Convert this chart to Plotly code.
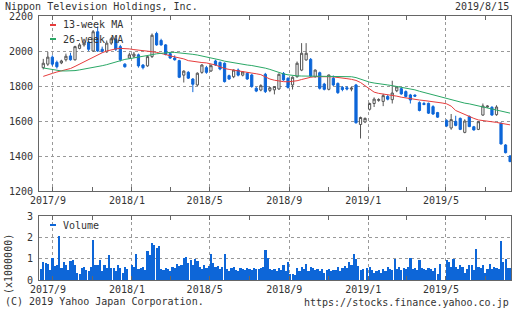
import pandas as pd
import plotly.graph_objects as go

# ---------------- data ----------------
week_start = "2017-08-17"
opens = [1905,1925,1965,1935,1932,1950,1972,1950,2015,2035,2050,2000,2110,2010,1995,2045,2065,2025,1925,1960,
         1970,1978,1920,1915,1968,2100,2060,2035,1985,1960,1945,1862,1878,1840,1806,1878,1905,1886,1943,1935,
         1930,1859,1853,1891,1862,1872,1863,1787,1777,1867,1775,1778,1783,1872,1844,1806,1853,1891,1949,1952,
         1853,1876,1811,1781,1844,1815,1792,1790,1782,1806,1580,1595,1667,1700,1718,1712,1740,1722,1773,1785,
         1768,1749,1748,1705,1700,1701,1682,1648,None,1602,1560,1598,1615,1535,1625,1567,1552,1634,1680,1678,
         1636,1587,1463,1400]
highs = [1955,1995,1975,1945,1950,1985,1990,2030,2045,2050,2060,2120,2140,2025,2060,2080,2075,2035,1930,1990,
         1995,1985,1925,1975,2100,2110,2070,2040,1995,1975,1950,1890,1885,1845,1878,1925,1915,1925,1950,1940,
         1935,1865,1895,1900,1885,1878,1870,1795,1810,1875,1795,1800,1872,1880,1850,1855,1940,2045,2045,1960,
         1895,1882,1818,1865,1860,1820,1800,1800,1795,1812,1625,1620,1705,1735,1730,1755,1750,1830,1800,1792,
         1775,1755,1752,1712,1710,1705,1690,1652,None,1610,1640,1630,1620,1610,1632,1572,1600,1700,1690,1685,
         1690,1592,1468,1405]
lows = [1895,1915,1915,1900,1925,1940,1945,1945,2010,2025,2000,1995,1995,1990,1990,2035,2000,1940,1905,1955,
        1960,1905,1895,1910,1960,2030,2030,1975,1955,1945,1845,1820,1840,1765,1800,1870,1870,1880,1915,1890,
        1820,1835,1845,1855,1855,1835,1790,1765,1770,1760,1765,1752,1778,1830,1785,1780,1848,1885,1945,1850,
        1848,1780,1775,1775,1800,1755,1770,1775,1770,1585,1500,1588,1660,1680,1710,1685,1718,1700,1765,1750,
        1735,1700,1738,1655,1690,1640,1635,1618,None,1565,1550,1570,1548,1530,1565,1545,1548,1630,1675,1630,
        1630,1465,1415,1365]
closes = [1930,1965,1925,1910,1943,1970,1950,2025,2035,2045,2010,2110,2000,1998,2045,2070,2010,1950,1910,1978,
          1982,1915,1905,1968,2090,2035,2035,1980,1960,1950,1850,1885,1845,1810,1873,1920,1878,1916,1920,1897,
          1825,1840,1891,1862,1880,1840,1797,1771,1802,1768,1790,1797,1867,1835,1792,1850,1930,1987,1987,1857,
          1891,1787,1781,1863,1806,1762,1780,1783,1788,1590,1620,1615,1700,1725,1722,1745,1725,1760,1795,1755,
          1740,1720,1742,1660,1695,1645,1640,1622,None,1572,1608,1575,1552,1600,1568,1549,1596,1686,1685,1634,
          1680,1469,1419,1368]
ma13 = [1855,1865,1872,1880,1886,1893,1900,1912,1925,1940,1950,1962,1976,1990,2000,2008,2012,2015,2015,2012,
        2008,2006,2003,1998,1996,1992,1988,1980,1972,1966,1962,1955,1945,1940,1937,1934,1932,1928,1920,1910,
        1900,1895,1890,1886,1882,1878,1874,1870,1865,1852,1840,1833,1828,1825,1824,1825,1830,1837,1845,1850,
        1853,1854,1854,1853,1852,1850,1846,1842,1838,1832,1820,1800,1780,1765,1758,1754,1751,1749,1742,1736,
        1731,1727,1724,1720,1717,1714,1712,1708,1703,1698,1685,1660,1648,1638,1628,1615,1606,1603,1601,1598,
        1592,1587,1582,1578]
ma26 = [1903,1898,1892,1888,1886,1886,1886,1888,1892,1896,1901,1905,1910,1916,1922,1930,1938,1946,1952,1956,
        1960,1963,1968,1974,1979,1984,1988,1991,1992,1992,1990,1988,1985,1981,1977,1972,1967,1961,1955,1949,
        1942,1937,1932,1928,1924,1920,1917,1913,1908,1902,1895,1886,1876,1869,1864,1860,1858,1857,1857,1857,
        1857,1857,1857,1857,1856,1856,1855,1854,1853,1848,1838,1828,1822,1817,1812,1809,1806,1802,1798,1793,
        1788,1783,1778,1770,1763,1756,1749,1742,1734,1727,1720,1714,1708,1702,1698,1692,1686,1679,1673,1667,
        1662,1657,1651,1645]
volume_start = "2017-08-14"
volume = [0.5,0.85,0.8,0.75,0.45,1.05,0.65,0.7,2.05,0.55,
          0.85,0.7,0.45,0.88,0.95,0.7,0.35,0.27,0.55,0.63,
          0.48,0.4,0.63,1.88,0.68,0.68,0.95,0.4,0.7,0.58,
          1.15,0.55,0.58,0.4,0.7,0.58,0.35,0.6,0.5,0,
          0.7,0.6,1.2,0.5,0.55,0.6,0.45,1.35,1.15,1.75,
          1.65,1.5,1.6,0.5,0.45,0.55,0.5,0.4,0.6,0.55,
          0.75,0.65,0.7,1.05,1.1,0.8,0.95,0.7,1.0,0.9,
          0.6,0.5,0.7,0.55,0.65,1.2,0.8,0.6,0.65,0.5,
          0.6,1.2,0.5,0.4,0.55,0.6,0.45,0.4,0.55,0.5,
          0.45,0.55,0.5,0.45,0.55,0.5,0.5,0.55,0.6,1.4,
          1.05,0.5,0.45,0.5,0.4,0.55,0.45,0.7,0.4,0.85,
          0.3,0.3,0.25,0.55,0.4,0.6,0.5,0.75,0.4,0.6,
          0.55,0.45,0.5,0.4,0.5,0.35,0.45,0.5,0.4,0.45,
          0.45,0.6,0.4,0.55,0.65,0.55,0.85,0.7,1.2,1.0,
          0.65,0.45,0.5,0,0.55,0.6,0.45,0.35,0.4,0.45,
          0.35,0.5,0.4,0.6,0.5,0.45,1.0,0.5,0.6,0.45,
          0.55,0.5,0.6,1.05,0.5,0.55,0.45,0.95,0.55,0.5,
          0.45,0.55,0.5,0.4,0.55,0.3,0.75,0,0,0.95,
          0.85,0.6,1.0,0.6,0.5,0.7,0.6,0.35,0.5,0.7,
          0.7,0.45,1.45,0.6,0.55,0.7,0.35,0.5,0.75,0.5,
          0.6,0.55,0.5,1.85,0.85,1.0,0.55,0.55,0.5]

title_text = "Nippon Television Holdings, Inc."
date_text = "2019/8/15"
copyright_text = "(C) 2019 Yahoo Japan Corporation."
url_text = "https://stocks.finance.yahoo.co.jp"
vol_unit_text = "(x1000000)"

# ---------------- styling ----------------
FONT = "DejaVu Sans Mono"
TXT = "#333333"
AX = "#666666"
GRID = "#999999"
BLUE = "#0d66d8"
RED = "#e63c3c"
GREEN = "#2aa866"
UPLINE = "#555555"

weeks = pd.date_range(week_start, periods=len(closes), freq="7D")
cdf = pd.DataFrame({"d": weeks, "o": opens, "h": highs, "l": lows, "c": closes}).dropna()
vdates = pd.date_range(volume_start, periods=len(volume), freq="84h")

fig = go.Figure()
fig.add_trace(go.Candlestick(
    x=cdf["d"], open=cdf["o"], high=cdf["h"], low=cdf["l"], close=cdf["c"],
    increasing=dict(line=dict(color=UPLINE, width=1), fillcolor="white"),
    decreasing=dict(line=dict(color=BLUE, width=1), fillcolor=BLUE),
    whiskerwidth=0, showlegend=False, xaxis="x", yaxis="y"))
fig.add_trace(go.Scatter(x=weeks, y=ma13, mode="lines", name="13-week MA",
                         line=dict(color=RED, width=1), showlegend=False, xaxis="x", yaxis="y"))
fig.add_trace(go.Scatter(x=weeks, y=ma26, mode="lines", name="26-week MA",
                         line=dict(color=GREEN, width=1), showlegend=False, xaxis="x", yaxis="y"))
fig.add_trace(go.Bar(x=vdates, y=volume, name="Volume", marker=dict(color=BLUE, line=dict(width=0)),
                     width=2.6 * 86400000, showlegend=False, xaxis="x2", yaxis="y2"))

W, H = 512, 310
L, R, T, B = 39, 1, 16, 30
PH = H - T - B
PW = W - L - R
def px(x): return (x - L) / PW
def py(y): return (H - B - y) / PH

xr = [pd.Timestamp("2017-08-10 09:36"), pd.Timestamp("2019-08-09 10:00")]
xcommon = dict(
    type="date", range=xr, tick0="2017-09-01", dtick="M4", tickformat="%Y/%-m",
    showgrid=True, gridcolor=GRID, griddash="dot", gridwidth=1,
    ticks="inside", ticklen=4, tickcolor=AX, mirror="ticks",
    showline=True, linecolor=AX, linewidth=1, zeroline=False,
    minor=dict(dtick="M2", tick0="2017-09-01", ticks="inside", ticklen=4, tickcolor=AX, showgrid=False),
    tickfont=dict(family=FONT, size=10, color=TXT), ticklabelshift=-5,
    rangeslider=dict(visible=False), fixedrange=True)
ycommon = dict(showgrid=True, gridcolor=GRID, griddash="dot", gridwidth=1, ticks="",
               showline=True, linecolor=AX, linewidth=1, mirror=True, zeroline=False,
               tickfont=dict(family=FONT, size=10, color=TXT), ticklabelstandoff=3, fixedrange=True)

fig.update_layout(
    width=W, height=H, margin=dict(l=L, r=R, t=T, b=B, pad=0),
    paper_bgcolor="white", plot_bgcolor="white",
    font=dict(family=FONT, size=10, color=TXT),
    xaxis=dict(xcommon, anchor="y", domain=[0, 1]),
    xaxis2=dict(xcommon, anchor="y2", domain=[0, 1], matches="x"),
    yaxis=dict(ycommon, anchor="x", domain=[py(191), 1], range=[1200, 2200], dtick=200),
    yaxis2=dict(ycommon, anchor="x2", domain=[0, py(216)], range=[0, 3], dtick=1),
    bargap=0, hovermode=False,
)

ann = [
    dict(text=title_text, x=px(3), y=py(7), xanchor="left"),
    dict(text=date_text, x=px(511), y=py(7), xanchor="right"),
    dict(text=copyright_text, x=px(3), y=py(301), xanchor="left"),
    dict(text=url_text, x=px(511), y=py(302), xanchor="right"),
    dict(text="13-week MA", x=px(61), y=py(25), xanchor="left"),
    dict(text="26-week MA", x=px(61), y=py(39), xanchor="left"),
    dict(text="Volume", x=px(61), y=py(225), xanchor="left"),
    dict(text=vol_unit_text, x=px(8), y=py(264), xanchor="center", textangle=-90),
]
for a in ann:
    a.update(xref="paper", yref="paper", showarrow=False, yanchor="middle",
             font=dict(family=FONT, size=10, color=TXT))
    fig.add_annotation(**a)

# legend key dashes
for ypix, col in [(25, RED), (39, GREEN), (225, BLUE)]:
    fig.add_shape(type="line", xref="paper", yref="paper",
                  x0=px(50), x1=px(56), y0=py(ypix), y1=py(ypix),
                  line=dict(color=col, width=2), layer="above")

fig.write_html("out.html")
